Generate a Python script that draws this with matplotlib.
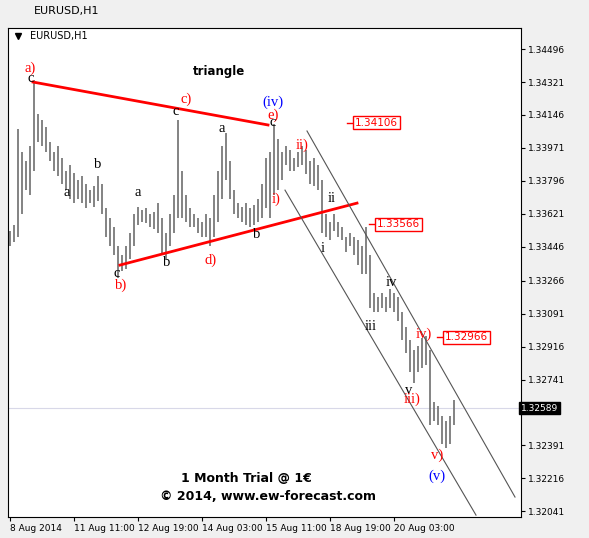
import matplotlib
matplotlib.use("Agg")
import matplotlib.pyplot as plt
from matplotlib.patches import Rectangle

highs = [1.3353,1.3356,1.3407,1.3395,1.3390,1.3398,1.3433,1.3415,1.3412,1.3408,1.3400,1.3395,1.3398,1.3392,1.3385,1.3388,
 1.3384,1.3380,1.3382,1.3378,1.3375,1.3377,1.3382,1.3378,1.3365,1.3360,1.3355,1.3345,1.3340,1.3345,1.3352,1.3362,
 1.3366,1.3364,1.3365,1.3362,1.3363,1.3368,1.3360,1.3352,1.3362,1.3372,1.3412,1.3385,1.3372,1.3365,1.3362,1.3360,
 1.3358,1.3362,1.3360,1.3372,1.3385,1.3398,1.3405,1.3390,1.3375,1.3368,1.3366,1.3368,1.3365,1.3367,1.3370,1.3378,
 1.3392,1.3395,1.3410,1.3402,1.3395,1.3398,1.3396,1.3392,1.3395,1.3398,1.3396,1.3390,1.3392,1.3388,1.3380,1.3362,
 1.3358,1.3362,1.3358,1.3355,1.3350,1.3352,1.3350,1.3348,1.3345,1.3355,1.3340,1.3320,1.3318,1.3320,1.3318,1.3322,
 1.3320,1.3318,1.3310,1.3302,1.3295,1.3290,1.3292,1.3296,1.3297,1.3290,1.3262,1.3260,1.3255,1.3252,1.3255,1.3263]
lows = [1.3345,1.3347,1.3350,1.3362,1.3375,1.3372,1.3385,1.3400,1.3398,1.3395,1.3390,1.3385,1.3382,1.3378,1.3375,1.3370,
 1.3368,1.3370,1.3368,1.3365,1.3368,1.3366,1.3369,1.3362,1.3350,1.3345,1.3340,1.3328,1.3332,1.3333,1.3338,1.3345,
 1.3356,1.3358,1.3357,1.3355,1.3354,1.3352,1.3340,1.3338,1.3345,1.3352,1.3360,1.3360,1.3358,1.3355,1.3355,1.3352,
 1.3350,1.3350,1.3345,1.3350,1.3358,1.3370,1.3380,1.3370,1.3362,1.3360,1.3358,1.3356,1.3355,1.3356,1.3358,1.3360,
 1.3365,1.3360,1.3372,1.3375,1.3380,1.3388,1.3385,1.3385,1.3387,1.3388,1.3383,1.3378,1.3377,1.3375,1.3352,1.3350,
 1.3348,1.3353,1.3350,1.3348,1.3342,1.3345,1.3340,1.3335,1.3330,1.3330,1.3312,1.3310,1.3310,1.3312,1.3310,1.3312,
 1.3310,1.3305,1.3295,1.3288,1.3278,1.3272,1.3278,1.3280,1.3282,1.3250,1.3252,1.3250,1.3240,1.3238,1.3240,1.3250]
yticks = [1.34496,1.34321,1.34146,1.33971,1.33796,1.33621,1.33446,1.33266,1.33091,1.32916,1.32741,1.32391,1.32216,1.32041]
xtick_pos = [0,16,32,48,64,80,96]
xtick_labels = ["8 Aug 2014","11 Aug 11:00","12 Aug 19:00","14 Aug 03:00","15 Aug 11:00","18 Aug 19:00","20 Aug 03:00"]
last_price = 1.32589
levels = [1.34106, 1.33566, 1.32966]

W, H = 589, 538
fig = plt.figure(figsize=(W/100, H/100), dpi=100, facecolor="#f0f0f0")
L, R, T, B = 8, 521, 28, 517
ax = fig.add_axes([L/W, 1-B/H, (R-L)/W, (B-T)/H])
ax.set_facecolor("white")
y0, y1 = 1.32011, 1.34608
ax.set_ylim(y0, y1)
ax.set_xlim(-0.5, 127.75)

def px(x, y):
    return ((x-10)/4, y1 - (y-T)*(y1-y0)/(B-T))

xs = list(range(len(highs)))
ax.vlines(xs, lows, highs, color="#6e6e6e", lw=1.2)
ax.axhline(last_price, color="#d8d8e8", lw=0.8, zorder=0)

# triangle lines
ax.plot([5.75, 64.5], [1.34321, 1.34093], color="red", lw=2)
ax.plot([27.5, 86.75], [1.33349, 1.33678], color="red", lw=2)
# channel
ax.plot([74.25, 126.25], [1.34061, 1.32117], color="#555", lw=0.8)
ax.plot([68.75, 116.5], [1.33747, 1.32021], color="#555", lw=0.8)

# level boxes
for lv, xl in zip(levels, [347, 369, 437]):
    a, _ = px(xl, 0); b, _ = px(xl+6, 0)
    ax.plot([a, b], [lv, lv], color="red", lw=1)
    xx, _ = px(xl+8, 0)
    ax.text(xx, lv, f"{lv:.5f}", color="red", fontsize=7.5, va="center", ha="left",
            bbox=dict(boxstyle="square,pad=0.15", fc="white", ec="red", lw=1))

labels = [(30,68,'a)','red'),(31,78,'c','black'),(186,99,'c)','red'),(176,112,'c','black'),
 (273,102,'(iv)','blue'),(273,115,'e)','red'),(273,123,'c','black'),(222,129,'a','black'),
 (98,165,'b','black'),(67,192,'a','black'),(138,193,'a','black'),(302,145,'ii)','red'),
 (332,198,'ii','black'),(276,199,'i)','red'),(257,235,'b','black'),(323,248,'i','black'),
 (211,260,'d)','red'),(167,262,'b','black'),(117,274,'c','black'),(121,285,'b)','red'),
 (391,282,'iv','black'),(371,327,'iii','black'),(424,334,'iv)','red'),(409,390,'v','black'),
 (412,399,'iii)','red'),(437,455,'v)','red'),(437,476,'(v)','blue')]
for x, y, s, c in labels:
    xx, yy = px(x, y)
    ax.text(xx, yy, s, color=c, fontsize=10.5, family="Liberation Serif", ha="center", va="center")
xx, yy = px(219, 71)
ax.text(xx, yy, "triangle", fontsize=8.5, fontweight="bold", ha="center", va="center")
xx, yy = px(246, 478)
ax.text(xx, yy, "1 Month Trial @ 1€", fontsize=9, fontweight="bold", ha="center", va="center")
xx, yy = px(268, 496)
ax.text(xx, yy, "© 2014, www.ew-forecast.com", fontsize=9, fontweight="bold", ha="center", va="center")
xx, yy = px(30, 36)
ax.text(xx, yy, "EURUSD,H1", fontsize=7, ha="left", va="center")
xx, yy = px(18, 36)
ax.plot([xx], [yy], marker="v", color="black", ms=4)

ax.yaxis.tick_right()
ax.set_yticks(yticks)
ax.set_yticklabels([f"{v:.5f}" for v in yticks], fontsize=6.5)
ax.set_xticks(xtick_pos)
ax.set_xticklabels(xtick_labels, fontsize=6.5, ha="left")
ax.tick_params(length=3, width=0.8, pad=2)
ax.text(1.0, last_price, f"{last_price:.5f}", transform=ax.get_yaxis_transform(), color="white",
        fontsize=6.5, va="center", ha="left", bbox=dict(boxstyle="square,pad=0.2", fc="black", ec="black"))
for s in ax.spines.values():
    s.set_linewidth(0.8)
fig.text(34/W, 1-11/H, "EURUSD,H1", fontsize=8, va="center")
fig.savefig("out.png", dpi=100, facecolor=fig.get_facecolor())
